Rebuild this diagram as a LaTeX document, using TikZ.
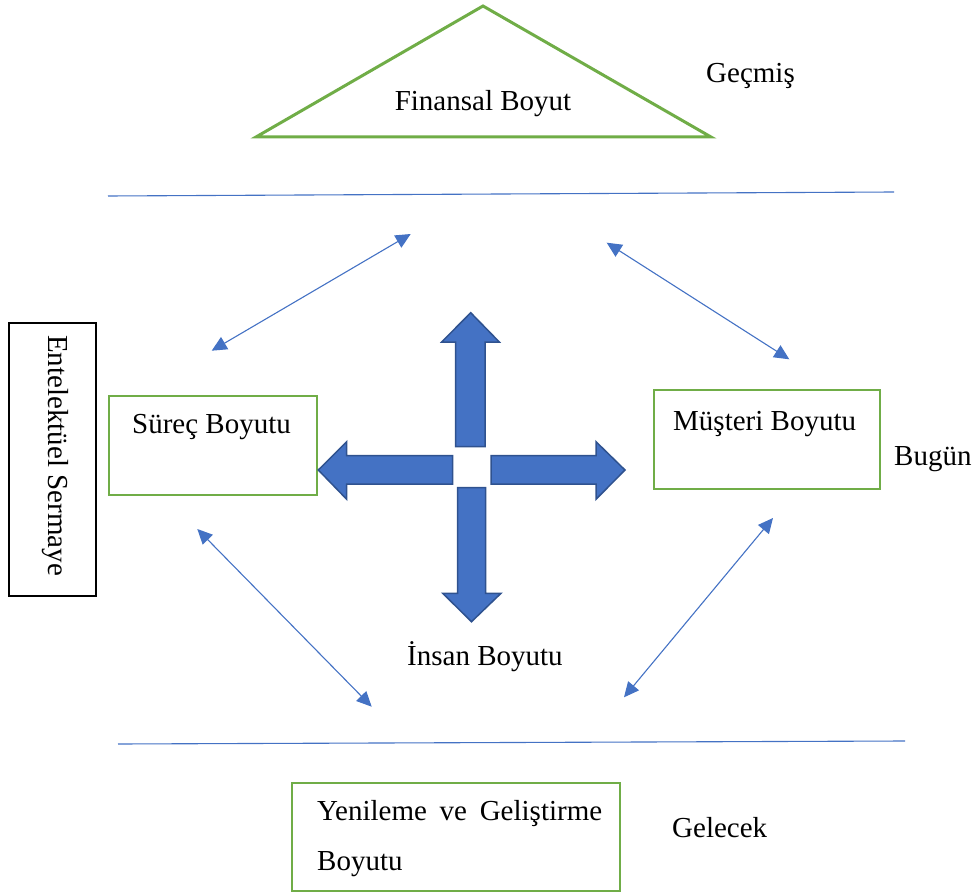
\documentclass[tikz,border=0pt]{standalone}
\usepackage{fontspec}
\setmainfont{Liberation Serif}
\usetikzlibrary{arrows.meta}
\definecolor{ggreen}{HTML}{70AD47}
\definecolor{bblue}{HTML}{4472C4}
\definecolor{dblue}{HTML}{2F528F}
\begin{document}
\begin{tikzpicture}[x=1pt,y=-1pt,
  txt/.style={font=\fontsize{29}{35}\selectfont, inner sep=0pt, anchor=base west},
  gbox/.style={draw=ggreen, line width=2.5pt, inner sep=0pt},
  kbox/.style={draw=black, line width=1.2pt, inner sep=0pt},
  link/.style={draw=bblue, line width=1.1pt, {Triangle[length=15pt,width=14pt]}-{Triangle[length=15pt,width=14pt]}},
  block/.style={fill=bblue, draw=dblue, line width=1.5pt, line join=miter},
  hline/.style={draw=bblue, line width=1.1pt}]
\useasboundingbox (0,0) rectangle (975,896);

% Financial triangle
\draw[draw=ggreen, line width=3pt, line join=miter] (256,137) -- (483,6) -- (711,137) -- cycle;
\node[txt, anchor=base] (fin) at (483,111) {Finansal Boyut};
\node[txt] (gecmis) at (706,83) {Geçmiş};

% horizontal lines
\coordinate (t1) at (108,196); \coordinate (t2) at (894,192);
\coordinate (u1) at (118,744); \coordinate (u2) at (905,741);
\draw[hline] (t1) -- (t2);
\draw[hline] (u1) -- (u2);

% boxes
\node[kbox, minimum width=87pt, minimum height=273pt] (ent) at (52.5,459.5) {};
\node[txt, rotate=-90] (enttxt) at (48,335) {Entelektüel Sermaye};

\node[gbox, minimum width=208pt, minimum height=99pt] (surec) at (213,445.5) {};
\node[txt] (surectxt) at (132,433) {Süreç Boyutu};

\node[gbox, minimum width=226pt, minimum height=99pt] (musteri) at (767,439.5) {};
\node[txt] (musteritxt) at (673,430) {Müşteri Boyutu};
\node[txt] (bugun) at (894,465) {Bugün};

\node[txt] (insan) at (407,665) {İnsan Boyutu};

\node[gbox, minimum width=328pt, minimum height=108pt] (yen) at (456,837) {};
\node[txt] (yen1) at (317,820) {\makebox[285pt][s]{Yenileme ve Geliştirme}};
\node[txt] (yen2) at (317,870) {Boyutu};
\node[txt] (gelecek) at (672,837) {Gelecek};

% thin double arrows
\coordinate (a1) at (211.7,350.7); \coordinate (b1) at (410.7,234);
\coordinate (a2) at (606.7,242.7); \coordinate (b2) at (789.3,359.3);
\coordinate (a3) at (197.3,529);   \coordinate (b3) at (371.7,706.7);
\coordinate (a4) at (773,518);     \coordinate (b4) at (624,697.3);
\draw[link] (a1) -- (b1);
\draw[link] (a2) -- (b2);
\draw[link] (a3) -- (b3);
\draw[link] (a4) -- (b4);

% block arrows
\draw[block] (441.7,342) -- (470.7,312.7) -- (499.3,342) -- (485,342) -- (485,446.7) -- (455.7,446.7) -- (455.7,342) -- cycle;
\draw[block] (346.7,441.7) -- (318.3,470) -- (346.7,499.3) -- (346.7,484) -- (452.7,484) -- (452.7,455.7) -- (346.7,455.7) -- cycle;
\draw[block] (596,441.7) -- (625,470) -- (596,499.3) -- (596,484) -- (491,484) -- (491,455.7) -- (596,455.7) -- cycle;
\draw[block] (442.7,593.3) -- (471.5,621.7) -- (501,593.3) -- (485.7,593.3) -- (485.7,487.7) -- (457.7,487.7) -- (457.7,593.3) -- cycle;
\end{tikzpicture}
\end{document}
